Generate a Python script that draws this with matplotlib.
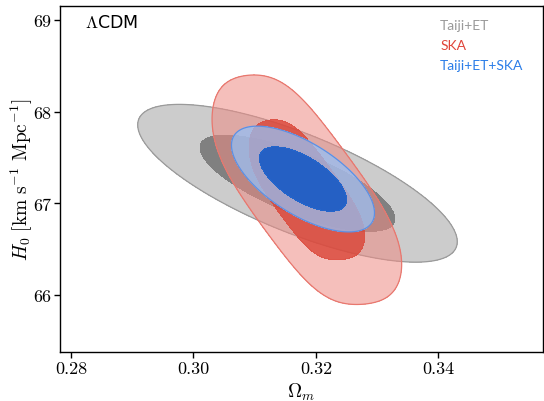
import numpy as np
import matplotlib
matplotlib.use("Agg")
import matplotlib.pyplot as plt

plt.rcParams['mathtext.fontset'] = 'cm'
plt.rcParams['font.family'] = ['DejaVu Sans']

# ---- data ----
labels = ["Taiji+ET", "SKA", "Taiji+ET+SKA"]
# Gaussian posteriors: mean Om, mean H0, sigma Om, sigma H0, correlation
gray_mean = [0.3170, 67.22]
gray_sigma = [0.0105, 0.346]
gray_rho = -0.74
blue_mean = [0.3179, 67.266]
blue_sigma = [0.0047, 0.232]
blue_rho = -0.64
# SKA: non-Gaussian, product of three constraints (Om band, H0 band, degeneracy band)
ska_om_band = [0.31861, 0.0064]      # centre, width
ska_h0_band = [67.152, 0.508]
ska_deg_band = [67.10, -90.2, 0.408]  # H0 at centre Om, slope dH0/dOm, width
ska_power = 5.5

xticks = [0.28, 0.30, 0.32, 0.34]
yticks = [66, 67, 68, 69]
xlim = (0.2782, 0.3571)
ylim = (65.38, 69.153)

r68, r95 = np.sqrt(2.30), np.sqrt(6.18)

fig = plt.figure(figsize=(5.44, 4.02), dpi=100)
ax = fig.add_axes([0.1103, 0.1219, 0.8877, 0.8607])

om = np.linspace(0.27, 0.37, 800)
h0 = np.linspace(65.0, 69.5, 800)
X, Y = np.meshgrid(om, h0)

def gauss_r(mean, sig, rho):
    dx = (X - mean[0]) / sig[0]
    dy = (Y - mean[1]) / sig[1]
    chi2 = (dx**2 - 2*rho*dx*dy + dy**2) / (1 - rho**2)
    return np.sqrt(chi2)

def ska_r():
    u = (X - ska_om_band[0]) / ska_om_band[1]
    v = (Y - ska_h0_band[0]) / ska_h0_band[1]
    w = (Y - ska_deg_band[0] - ska_deg_band[1]*(X - ska_om_band[0])) / ska_deg_band[2]
    p = ska_power
    return (np.abs(u)**p + np.abs(v)**p + np.abs(w)**p)**(1.0/p)

def draw(R, c_out, c_in, a_out, a_in, edge, z):
    ax.contourf(X, Y, R, levels=[r68, r95], colors=[c_out], alpha=a_out, zorder=z)
    ax.contourf(X, Y, R, levels=[0, r68], colors=[c_in], alpha=a_in, zorder=z+0.1)
    ax.contour(X, Y, R, levels=[r95], colors=[edge], linewidths=0.9, zorder=z+0.2)

draw(gauss_r(gray_mean, gray_sigma, gray_rho), '#cccccc', '#808080', 1.0, 1.0, '#9a9a9a', 1)
draw(ska_r(), '#ee8b84', '#dc4a3d', 0.55, 0.9, '#e8776e', 2)
draw(gauss_r(blue_mean, blue_sigma, blue_rho), '#97c0f5', '#1c62cc', 0.75, 0.95, '#5d8fe3', 3)

ax.set_xlim(*xlim)
ax.set_ylim(*ylim)
ax.set_xticks(xticks)
ax.set_xticklabels(['%.2f' % t for t in xticks], fontfamily='cmr10')
ax.set_yticks(yticks)
ax.set_yticklabels(['%d' % t for t in yticks], fontfamily='cmr10')
ax.tick_params(direction='out', length=4, width=1, labelsize=13, pad=2)
for s in ax.spines.values():
    s.set_linewidth(1.0)
ax.set_xlabel(r'$\Omega_m$', fontsize=14)
ax.set_ylabel(r'$H_0\ [\mathrm{km\ s^{-1}\ Mpc^{-1}}]$', fontsize=14)
ax.xaxis.set_label_coords(0.5, -0.082)
ax.yaxis.set_label_coords(-0.052, 0.5)

ax.text(0.052, 0.954, r'$\Lambda$CDM', transform=ax.transAxes, fontsize=12.5,
        va='center', ha='left')
leg_colors = ['#9a9a9a', '#e0453a', '#2b7de8']
for i, (lab, col) in enumerate(zip(labels, leg_colors)):
    ax.text(0.787, 0.945 - 0.058*i, lab, transform=ax.transAxes, color=col,
            fontsize=10, va='center', ha='left', family=['Lato', 'DejaVu Sans'])

fig.savefig('out.png', dpi=100)
